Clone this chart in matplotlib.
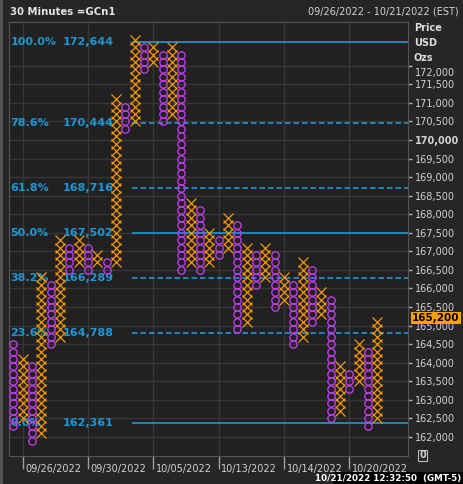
import numpy as np
import matplotlib.pyplot as plt
from matplotlib.patches import Rectangle
from matplotlib.transforms import blended_transform_factory

# point & figure columns, alternating O / X, box size 200
box_size = 200
first_col = "O"
col_low = [162300, 162500, 161900, 162100, 164500, 164700, 166500, 166700, 166500, 166700,
           166500, 166700, 170300, 170500, 171900, 172100, 170500, 170700, 166500, 166700,
           166500, 166700, 166900, 167100, 164900, 165100, 166100, 166300, 165500, 165700,
           164500, 164700, 165100, 165300, 162500, 162700, 163300, 163500, 162300, 162500]
col_high = [164500, 164100, 163900, 166300, 166100, 167300, 167100, 167300, 167100, 166900,
            166700, 171100, 170900, 172700, 172500, 172500, 172300, 172500, 172300, 168300,
            168100, 167500, 167300, 167900, 167700, 167100, 166900, 167100, 166900, 166300,
            166100, 166700, 166500, 165900, 165700, 163900, 163700, 164500, 164300, 165100]

# fibonacci retracement
fib_pct = ["100.0%", "78.6%", "61.8%", "50.0%", "38.2%", "23.6%", "0.0%"]
fib_val = [172644, 170444, 168716, 167502, 166289, 164788, 162361]
fib_solid = [True, False, False, True, False, False, True]

date_cols = [1, 8, 15, 22, 29, 36]
date_labels = ["09/26/2022", "09/30/2022", "10/05/2022", "10/13/2022", "10/14/2022", "10/20/2022"]
price_ticks = [162000, 162500, 163000, 163500, 164000, 164500, 165000, 165500, 166000,
               166500, 167000, 167500, 168000, 168500, 169000, 169500, 170000, 170500,
               171000, 171500, 172000]
last_price = 165200

x_color = "#ff9d00"
o_color = "#c43cf2"
fib_color = "#1a98d8"
text_color = "#d2d2d2"

W, H = 464, 484
fig = plt.figure(figsize=(W / 100, H / 100), dpi=100, facecolor="#262626")
left, right, top, bottom = 9.5, 408, 22, 455.5
ax = fig.add_axes([left / W, 1 - bottom / H, (right - left) / W, (bottom - top) / H])
ax.set_facecolor("#212121")

# columns
for i in range(len(col_low)):
    boxes = np.arange(col_low[i], col_high[i] + 1, box_size)
    is_x = (i % 2 == 1) if first_col == "O" else (i % 2 == 0)
    if is_x:
        ax.plot([i] * len(boxes), boxes, ls="none", marker="x", ms=6.6, mew=0.85,
                color=x_color, zorder=3)
    else:
        ax.plot([i] * len(boxes), boxes, ls="none", marker="o", ms=5.3, mew=0.95,
                mfc="none", mec=o_color, zorder=3)

ax.set_xlim(-0.4, 42.3)
ax.set_ylim(161498, 173178)

# fib lines + labels
lbl_tr = blended_transform_factory(ax.transAxes, ax.transData)
for pct, val, solid in zip(fib_pct, fib_val, fib_solid):
    ls = "-" if solid else (0, (3.3, 1.8))
    ax.hlines(val, 12.75, 42.3, colors=fib_color, linestyles=ls, lw=1.2, zorder=2)
    ax.text(0.002, val, pct, transform=lbl_tr, color=fib_color, fontsize=8,
            fontweight="bold", va="center", ha="left", zorder=1)
    ax.text(0.134, val, f"{val:,}", transform=lbl_tr, color=fib_color, fontsize=8,
            fontweight="bold", va="center", ha="left", zorder=1)

# grid and axes
ax.set_yticks(price_ticks)
ax.set_xticks(date_cols)
ax.grid(True, color="#373737", lw=1, zorder=0)
ax.set_axisbelow(True)
ax.yaxis.tick_right()
ylabels = []
for v in price_ticks:
    ylabels.append("" if v == 172000 else f"{v:,}")
ax.set_yticklabels(ylabels)
ax.set_xticklabels([""] * len(date_cols))
ax.tick_params(axis="y", colors="#b0b0b0", labelcolor=text_color, labelsize=7,
               length=3, width=1, pad=2)
ax.tick_params(axis="x", colors="#a0a0a0", length=9, width=1)
for lbl in ax.get_yticklabels():
    if lbl.get_text() == "170,000":
        lbl.set_fontweight("bold")
for s in ax.spines.values():
    s.set_color("#555555")

ax.annotate("172,000", xy=(1, 172000), xycoords=("axes fraction", "data"),
            xytext=(5, -5), textcoords="offset points", color=text_color,
            fontsize=7, ha="left", va="center", annotation_clip=False)

for c, d in zip(date_cols, date_labels):
    ax.annotate(d, xy=(c, 0), xycoords=("data", "axes fraction"), xytext=(2, -6),
                textcoords="offset points", color=text_color, fontsize=7,
                ha="left", va="top", annotation_clip=False)

# last price box
ax.annotate(f"{last_price:,}", xy=(1, last_price), xycoords=("axes fraction", "data"),
            xytext=(3, 0), textcoords="offset points", color="black", fontsize=7.5,
            fontweight="bold", ha="left", va="center", annotation_clip=False, zorder=10,
            bbox=dict(boxstyle="square,pad=0.12", fc="#ffa000", ec="none"))

# volume zero marker
ax.annotate("0", xy=(1, 0), xycoords="axes fraction", xytext=(8, 0),
            textcoords="offset points", color=text_color, fontsize=7, fontweight="bold",
            ha="left", va="center", annotation_clip=False,
            bbox=dict(boxstyle="square,pad=0.1", fc="none", ec="#bbbbbb", lw=0.8))

# header
fig.text(10 / W, 1 - 12 / H, "30 Minutes =GCn1", color="#e2e2e2", fontsize=7.3,
         fontweight="bold", ha="left", va="center")
fig.text(459 / W, 1 - 12 / H, "09/26/2022 - 10/21/2022 (EST)", color=text_color,
         fontsize=7, ha="right", va="center")
for yy, t in zip([28, 43, 58], ["Price", "USD", "Ozs"]):
    fig.text(414 / W, 1 - yy / H, t, color="#dcdcdc", fontsize=7, fontweight="bold",
             ha="left", va="center")

# bottom status strip
fig.patches.append(Rectangle((333 / W, 0), (W - 333) / W, 12 / H, transform=fig.transFigure,
                             fc="black", ec="none", zorder=5))
fig.text(461 / W, 1 - 478 / H, "10/21/2022 12:32:50  (GMT-5)", color="white", fontsize=6.3,
         fontweight="bold", ha="right", va="center", zorder=6)
fig.patches.append(Rectangle((0, 0), 2.5 / W, 1, transform=fig.transFigure,
                             fc="#555555", ec="none"))

fig.savefig("out.png", dpi=100, facecolor=fig.get_facecolor())
